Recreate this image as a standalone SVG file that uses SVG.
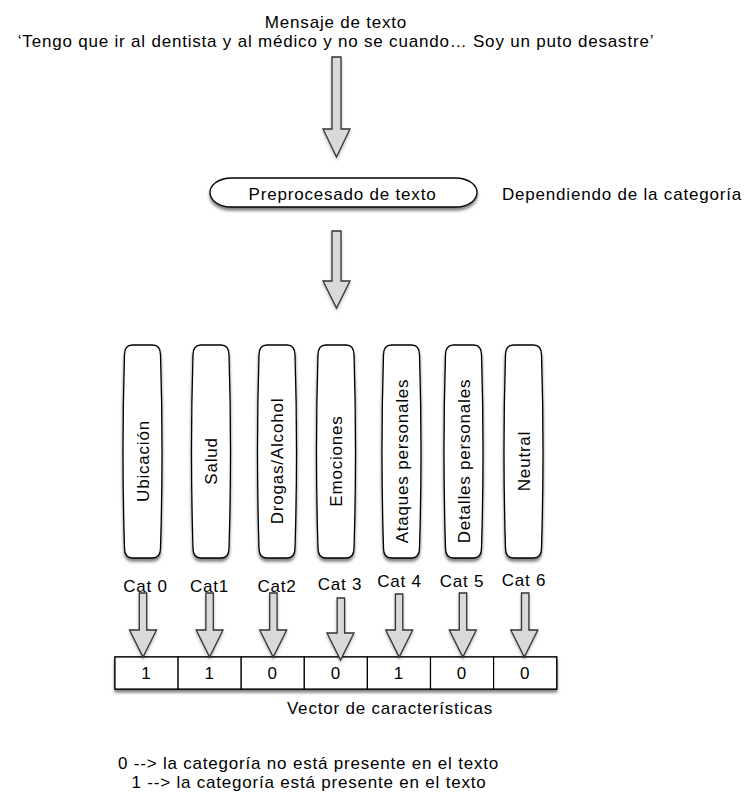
<svg xmlns="http://www.w3.org/2000/svg" xmlns:xlink="http://www.w3.org/1999/xlink" width="745" height="805" viewBox="0 0 745 805">
  <defs>
    <filter id="shadow" x="-30%" y="-10%" width="160%" height="130%">
      <feDropShadow dx="0" dy="3" stdDeviation="1.8" flood-color="#000" flood-opacity="0.5"/>
    </filter>
    <filter id="soft" x="-40%" y="-10%" width="180%" height="130%">
      <feDropShadow dx="0" dy="2" stdDeviation="1.5" flood-color="#000" flood-opacity="0.3"/>
    </filter>
    <!-- tall category box, centred on x = 0 -->
    <path id="col" d="M-10,345 H10 Q18,345 18,355 Q21,451.5 18,548 Q18,558 10,558 H-10 Q-18,558 -18,548 Q-21,451.5 -18,355 Q-18,345 -10,345 Z"/>
    <style>
      text { font-family: "Liberation Sans", Arial, Helvetica, sans-serif; font-size: 17px; letter-spacing: 0.8px; fill: #000; }
      .mid { text-anchor: middle; }
      .box { fill: #fff; stroke: #000; stroke-width: 1.3; filter: url(#shadow); }
      .arrow { fill: #d9d9d9; stroke: #333; stroke-width: 1.3; stroke-linejoin: miter; filter: url(#soft); }
      .cell { fill: #fff; stroke: #000; stroke-width: 1.2; }
    </style>
  </defs>

  <!-- input message -->
  <g id="message">
    <text class="mid" x="336" y="28">Mensaje de texto</text>
    <text class="mid" x="336" y="47">‘Tengo que ir al dentista y al médico y no se cuando… Soy un puto desastre’</text>
  </g>

  <!-- preprocessing step -->
  <g id="preprocesado">
    <path class="box" d="M232,178 H455 C470,178 477,186 477,192.5 C477,199 470,207 455,207 H232 C217,207 210,199 210,192.5 C210,186 217,178 232,178 Z"/>
    <text class="mid" x="342.5" y="199.5">Preprocesado de texto</text>
  </g>
  <g id="nota-categoria">
    <text x="502" y="200">Dependiendo de la categoría</text>
  </g>

  <!-- category detectors -->
  <g id="cat0">
    <use href="#col" x="142.5" class="box"/>
    <text class="mid" transform="translate(142.5,461) rotate(-90)" y="6">Ubicación</text>
  </g>
  <g id="cat1">
    <use href="#col" x="211" class="box"/>
    <text class="mid" transform="translate(211,461) rotate(-90)" y="6">Salud</text>
  </g>
  <g id="cat2">
    <use href="#col" x="277" class="box"/>
    <text class="mid" transform="translate(277,461) rotate(-90)" y="6">Drogas/Alcohol</text>
  </g>
  <g id="cat3">
    <use href="#col" x="336" class="box"/>
    <text class="mid" transform="translate(336,461) rotate(-90)" y="6">Emociones</text>
  </g>
  <g id="cat4">
    <use href="#col" x="401.5" class="box"/>
    <text class="mid" transform="translate(401.5,461) rotate(-90)" y="6">Ataques personales</text>
  </g>
  <g id="cat5">
    <use href="#col" x="463.5" class="box"/>
    <text class="mid" transform="translate(463.5,461) rotate(-90)" y="6">Detalles personales</text>
  </g>
  <g id="cat6">
    <use href="#col" x="523.5" class="box"/>
    <text class="mid" transform="translate(523.5,461) rotate(-90)" y="6">Neutral</text>
  </g>

  <!-- category labels -->
  <g id="cat-labels">
    <text class="mid" x="145.5" y="592">Cat 0</text>
    <text class="mid" x="209.5" y="592">Cat1</text>
    <text class="mid" x="277" y="592">Cat2</text>
    <text class="mid" x="340" y="590">Cat 3</text>
    <text class="mid" x="399.5" y="587">Cat 4</text>
    <text class="mid" x="462" y="587">Cat 5</text>
    <text class="mid" x="524" y="586">Cat 6</text>
  </g>

  <!-- feature vector -->
  <g id="vector">
    <rect x="115" y="657" width="441.7" height="32" class="box"/>
    <rect class="cell" x="115" y="657" width="63.1" height="32"/>
    <rect class="cell" x="178.1" y="657" width="63.1" height="32"/>
    <rect class="cell" x="241.2" y="657" width="63.1" height="32"/>
    <rect class="cell" x="304.3" y="657" width="63.1" height="32"/>
    <rect class="cell" x="367.4" y="657" width="63.1" height="32"/>
    <rect class="cell" x="430.5" y="657" width="63.1" height="32"/>
    <rect class="cell" x="493.6" y="657" width="63.1" height="32"/>
    <text class="mid" x="146.5" y="679">1</text>
    <text class="mid" x="209.6" y="679">1</text>
    <text class="mid" x="272.7" y="679">0</text>
    <text class="mid" x="335.8" y="679">0</text>
    <text class="mid" x="398.9" y="679">1</text>
    <text class="mid" x="462" y="679">0</text>
    <text class="mid" x="525.1" y="679">0</text>
  </g>
  <g id="vector-label">
    <text class="mid" x="390" y="714">Vector de características</text>
  </g>

  <!-- connectors -->
  <g id="connectors">
    <path class="arrow" d="M332,57 H341 V129 H350 L336.5,157 L323,129 H332 Z"/>
    <path class="arrow" d="M332,231 H341 V281 H350 L336.5,308 L323,281 H332 Z"/>
    <path class="arrow" d="M139.3,593 H146.7 V630 H156.5 L143,657 L129.5,630 H139.3 Z"/>
    <path class="arrow" d="M205.9,593 H213.3 V630 H223 L209.6,657 L196.2,630 H205.9 Z"/>
    <path class="arrow" d="M269.7,593 H277.1 V630 H286.7 L273.2,657 L259.7,630 H269.7 Z"/>
    <path class="arrow" d="M337.2,598 H344.6 V633 H354 L340.5,660 L327,633 H337.2 Z"/>
    <path class="arrow" d="M395.4,594 H402.8 V630 H412.7 L399.2,657 L385.7,630 H395.4 Z"/>
    <path class="arrow" d="M459.3,593 H466.7 V630 H476.3 L462.8,657 L449.3,630 H459.3 Z"/>
    <path class="arrow" d="M521.5,593 H528.9 V630 H537.8 L524.3,657 L510.8,630 H521.5 Z"/>
  </g>

  <!-- legend -->
  <g id="leyenda">
    <text class="mid" x="308.5" y="768.5">0 --&gt; la categoría no está presente en el texto</text>
    <text class="mid" x="309" y="787.5">1 --&gt; la categoría está presente en el texto</text>
  </g>
</svg>
